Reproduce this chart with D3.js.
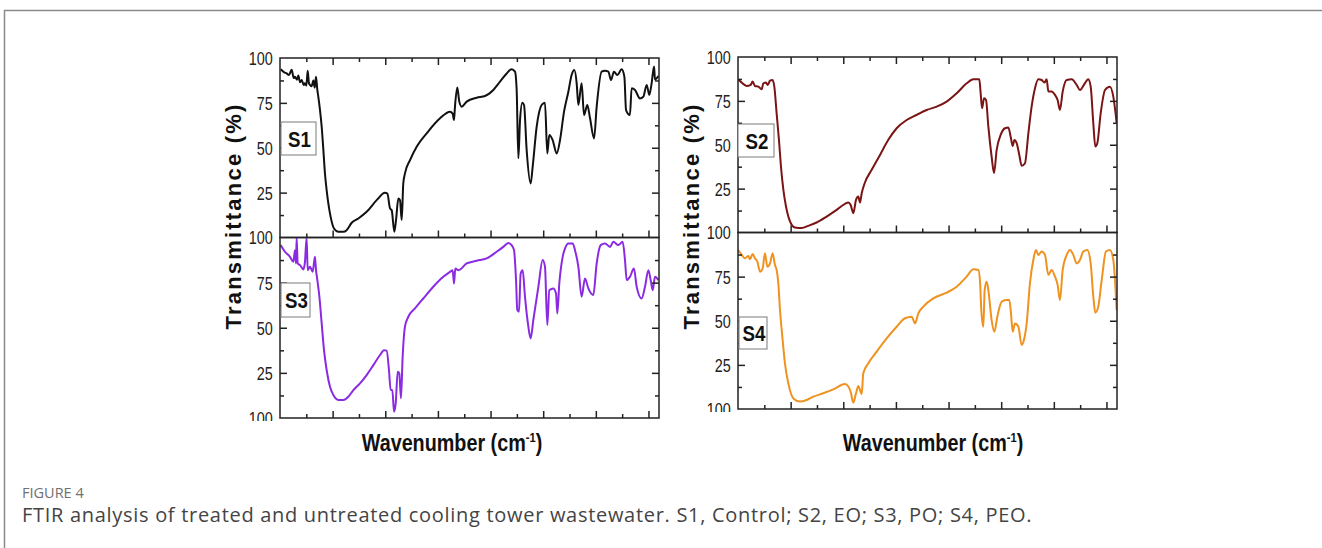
<!DOCTYPE html>
<html>
<head>
<meta charset="utf-8">
<script src="https://cdnjs.cloudflare.com/ajax/libs/d3/7.8.5/d3.min.js"></script>
<style>
  body { margin: 0; background: #fff; }
  svg text { font-family: "Liberation Sans", Arial, sans-serif; }
</style>
</head>
<body>
<div id="container"></div>
<script>
const width = 1322, height = 548;

// wavenumber (cm-1) vs transmittance (%)
const s1 = [[3994,93.7],[3960,92],[3937,91.4],[3915,90.5],[3889,93.5],[3870,88.8],[3858,89.6],[3840,87.9],[3826,90.2],[3810,86.5],[3794,87.7],[3775,84.9],
  [3763,85.9],[3750,84.6],[3737,92.9],[3725,86],[3715,85],[3700,84.2],[3683,87.5],[3670,83.5],[3658,89.6],[3645,82],[3636,78.4],
  [3620,71],[3604,61.7],[3588,48.7],[3573,35.7],[3557,26.4],[3541,19],[3519,11.5],[3487,5],[3446,3.2],[3398,3.2],[3367,4.1],[3319,8.2],[3256,10.6],[3177,14.3],
  [3082,20.8],[3003,24.9],[2980,24.5],[2955,16.2],[2939,15.2],[2914,3.2],[2898,9.7],[2876,21.7],[2860,20.8],[2844,9.7],[2829,30.1],[2813,35.7],[2765,43.1],
  [2702,50.6],[2607,58],[2480,66.4],[2385,70.1],[2360,69],[2347,65.4],[2338,72.9],[2316,83.5],[2297,75.7],[2274,72.9],[2227,75.7],[2132,77.9],[2053,78.8],
  [1974,82.2],[1910,86.8],[1847,91.4],[1800,93.7],[1768,92.4],[1752,82.2],[1736,44.1],[1720,65.4],[1698,75.1],[1682,73.8],[1657,48.7],[1619,30.1],[1600,39.4],
  [1562,61.7],[1515,73.8],[1483,75.1],[1461,46.8],[1442,57.1],[1410,54.3],[1372,46.8],[1340,54.3],[1302,70.1],[1261,81.2],[1230,90.5],[1204,93.3],[1182,85.9],
  [1166,73.8],[1135,85.9],[1112,68.2],[1081,73.8],[1055,66.4],[1017,55.2],[992,72.9],[945,92.4],[913,92.9],[881,92.4],[856,87.7],[828,92.4],[796,90.5],
  [755,93.7],[729,89.6],[713,71],[676,68.2],[660,83.1],[628,82.2],[581,77.5],[549,78.4],[517,85],[492,79.4],[470,85.9],[447,95.2],[438,88],[406,90]];

const s2 = [[3997,87.3],[3965,85.4],[3918,83.5],[3880,84.1],[3861,86],[3839,83.5],[3807,83.1],[3775,81.6],[3759,85],[3734,85.4],[3718,84.1],[3696,86.5],
  [3671,86.9],[3655,83.1],[3633,67.9],[3611,52.8],[3592,37.6],[3569,24.3],[3544,14.8],[3506,6.3],[3459,2.8],[3395,2.5],[3332,3.8],[3253,5.7],[3158,9.1],
  [3063,12.9],[2984,16.3],[2952,17.1],[2930,15.7],[2905,11],[2879,18.6],[2857,20.5],[2841,17.1],[2825,22.4],[2794,28.5],[2730,35.7],[2651,44.2],[2572,52.8],
  [2493,59.4],[2398,64.1],[2303,67],[2208,69.8],[2113,71.7],[2018,74.6],[1923,79.3],[1828,85],[1765,87.3],[1708,87.3],[1695,79.3],[1682,70.8],[1663,76.5],
  [1644,75.5],[1622,60.3],[1591,43.3],[1568,33.8],[1543,47.1],[1505,55.6],[1464,59.4],[1432,59.8],[1410,54.6],[1391,49.3],[1375,52.7],[1353,50.9],[1328,44.2],
  [1306,38],[1274,39.5],[1242,56.5],[1211,71.7],[1179,82.2],[1147,87.3],[1116,86.9],[1090,85.4],[1068,87.3],[1052,80.3],[1021,80.3],[989,78.4],[964,75.5],
  [942,69.8],[916,80.3],[878,86.9],[831,87.3],[783,84.1],[752,81.2],[714,84.1],[673,87.3],[650,83.1],[625,62.2],[606,49],[587,50.9],[555,67.9],[514,81.2],
  [467,83.1],[435,77.4],[403,62.2]];

const s3 = [[3994,95.8],[3953,92.1],[3905,89.3],[3873,86.5],[3858,93],[3848,85.6],[3842,100],[3832,85.6],[3810,84.7],[3778,82.3],[3763,86.5],[3747,100],
  [3737,81.9],[3715,83.8],[3690,81],[3668,89.3],[3658,81.9],[3645,76.4],[3626,67.2],[3604,52.4],[3582,37.6],[3557,26.6],[3525,17.3],[3493,12.7],[3446,10],
  [3398,10],[3351,11.8],[3303,15.5],[3240,19.2],[3177,23.8],[3113,29.3],[3050,34.9],[3012,37.6],[2987,37.3],[2965,26.6],[2949,15.5],[2933,15.5],[2917,3.5],
  [2901,8.1],[2882,25.6],[2867,24.7],[2851,10.9],[2835,33.9],[2813,50.6],[2781,56.1],[2718,60.7],[2639,66.2],[2544,72.7],[2449,78.2],[2385,81],[2360,81.9],
  [2347,74.5],[2335,82.8],[2306,81.9],[2227,85.6],[2132,87.1],[2037,88.4],[1942,92.1],[1879,94.8],[1831,97],[1800,95.8],[1777,93],[1758,76.4],[1746,59.8],
  [1730,58.9],[1714,80.1],[1695,81.9],[1673,67.2],[1641,50.6],[1619,44.1],[1594,54.2],[1546,72.7],[1505,87.5],[1483,83.8],[1461,51.5],[1442,70.8],[1404,71.8],
  [1378,69],[1366,57.9],[1347,74.5],[1315,89.3],[1293,93.9],[1261,96.7],[1220,96.7],[1198,93],[1166,83.8],[1135,67.2],[1103,77.3],[1071,71.8],[1024,68.1],
  [992,85.6],[954,95.8],[913,96.7],[865,94.8],[834,97.6],[786,95.8],[745,97.6],[723,87.5],[707,76.4],[676,78.2],[638,82.8],[612,72.7],[565,66.2],[533,72.7],
  [501,81.9],[479,76.4],[460,70.8],[438,78.2],[406,76.4]];

const s4 = [[3997,90.1],[3965,87.3],[3934,85.4],[3902,86.7],[3886,84.8],[3861,87.8],[3839,85.4],[3816,83.5],[3791,77.8],[3766,79.7],[3744,88.2],[3721,80.6],
  [3696,82.5],[3671,88.2],[3649,81.6],[3633,78.8],[3617,71.2],[3601,56.1],[3579,41],[3554,25.9],[3522,14.5],[3474,6],[3411,4.2],[3348,5.1],[3284,7],[3190,8.9],
  [3095,11.1],[2984,14.2],[2952,12.7],[2930,9.8],[2905,3.6],[2879,8.9],[2857,13],[2825,8.5],[2810,20.2],[2762,25.9],[2683,32.5],[2588,40],[2493,46.6],[2414,51.4],
  [2350,52.3],[2319,48.5],[2287,54.2],[2240,58],[2145,62.7],[2018,65.9],[1923,69.3],[1828,75],[1765,79.2],[1717,78.8],[1702,73.1],[1689,56.1],[1670,46.6],
  [1657,67.4],[1638,72.1],[1622,67.4],[1591,50.4],[1565,43.8],[1537,52.3],[1496,60.8],[1455,61.8],[1423,61.8],[1407,54.2],[1391,43.8],[1369,48.5],[1337,46.6],
  [1306,36.3],[1284,39.1],[1258,48.5],[1227,71.2],[1195,84.4],[1170,90.1],[1147,87.3],[1116,89.2],[1084,87.3],[1052,75.9],[1021,78.8],[989,75],[964,70.3],
  [942,61.8],[916,78.8],[878,87.3],[847,90.1],[815,87.3],[783,82.5],[752,84.4],[720,89.2],[682,90.1],[650,82.5],[625,63.6],[606,54.6],[578,58],[545,73.1],
  [505,89.2],[467,90.1],[435,84.4],[403,56.1]];

const sampleNames = ["S1", "S2", "S3", "S4"];
const lineColors = ["#111111", "#7b1414", "#8a2be2", "#ef9220"];
const xMajorTicks = [3500, 3000, 2500, 2000, 1500, 1000, 500];
const xMinorTicks = [3750, 3250, 2750, 2250, 1750, 1250, 750];
const yMajorTicks = [25, 50, 75];
const yMinorTicks = [12.5, 37.5, 62.5, 87.5];
const yLabelTicks = [100, 75, 50, 25];
const xTitle = "Wavenumber (cm";
const yTitle = "Transmittance (%)";
const captionLabel = "FIGURE 4";
const captionText = "FTIR analysis of treated and untreated cooling tower wastewater. S1, Control; S2, EO; S3, PO; S4, PEO.";

const svg = d3.select("#container")
  .append("svg")
  .attr("width", width)
  .attr("height", height);

// frame around the figure
svg.append("path")
  .attr("d", `M4.5,${height} V10.5 H${width}`)
  .attr("fill", "none")
  .attr("stroke", "#8a8a8a")
  .attr("stroke-width", 1.5);

const columns = [
  { x0: 280, x1: 659, top: 58, mid: 237.5, bottom: 418, titleX: 233, xTitleX: 452, series: [s1, s3], idx: [0, 2],
    boxes: [{ x: 281, y: 122, w: 35, h: 33 }, { x: 281, y: 283, w: 29, h: 34 }] },
  { x0: 738, x1: 1117, top: 57, mid: 232.5, bottom: 409, titleX: 691, xTitleX: 933, series: [s2, s4], idx: [1, 3],
    boxes: [{ x: 738, y: 124, w: 36, h: 33 }, { x: 739, y: 317, w: 28, h: 32 }] }
];

columns.forEach((col, ci) => {
  const x = d3.scaleLinear().domain([4000, 400]).range([col.x0, col.x1]);

  [[col.top, col.mid], [col.mid, col.bottom]].forEach(([t, b], pi) => {
    const y = d3.scaleLinear().domain([0, 100]).range([b, t]);
    const g = svg.append("g");
    const clipId = `clip-${ci}-${pi}`;

    svg.append("clipPath").attr("id", clipId)
      .append("rect")
      .attr("x", col.x0).attr("y", t)
      .attr("width", col.x1 - col.x0).attr("height", b - t);

    const line = d3.line()
      .x(d => x(d[0]))
      .y(d => y(d[1]))
      .curve(d3.curveMonotoneX);

    g.append("path")
      .datum(col.series[pi])
      .attr("clip-path", `url(#${clipId})`)
      .attr("fill", "none")
      .attr("stroke", lineColors[col.idx[pi]])
      .attr("stroke-width", 2)
      .attr("stroke-linejoin", "round")
      .attr("d", line);

    // tick marks, all pointing inward
    const tickAxis = (axis, values, size) => axis.tickValues(values).tickSize(-size).tickFormat("");
    const bottomAx = g.append("g").attr("transform", `translate(0,${b})`);
    bottomAx.append("g").call(tickAxis(d3.axisBottom(x), xMajorTicks, 7));
    bottomAx.append("g").call(tickAxis(d3.axisBottom(x), xMinorTicks, 4));
    if (pi === 0) {
      const topAx = g.append("g").attr("transform", `translate(0,${t})`);
      topAx.append("g").call(tickAxis(d3.axisTop(x), xMajorTicks, 7));
      topAx.append("g").call(tickAxis(d3.axisTop(x), xMinorTicks, 4));
    }
    const leftAx = g.append("g").attr("transform", `translate(${col.x0},0)`);
    leftAx.append("g").call(tickAxis(d3.axisLeft(y), yMajorTicks, 7));
    leftAx.append("g").call(tickAxis(d3.axisLeft(y), yMinorTicks, 4));
    const rightAx = g.append("g").attr("transform", `translate(${col.x1},0)`);
    rightAx.append("g").call(tickAxis(d3.axisRight(y), yMajorTicks, 7));
    rightAx.append("g").call(tickAxis(d3.axisRight(y), yMinorTicks, 4));
    g.selectAll(".domain").remove();
    g.selectAll(".tick line").attr("stroke", "#222").attr("stroke-width", 1.5);

    // tick labels (bottom label of the lower panel reads "100" in the original)
    const labelVals = pi === 1 ? yLabelTicks.concat([0]) : yLabelTicks;
    const lab = g.append("g")
      .attr("transform", `translate(${col.x0},0)`)
      .call(d3.axisLeft(y).tickValues(labelVals).tickSize(0).tickPadding(9)
        .tickFormat(d => d === 0 ? "100" : d));
    lab.select(".domain").remove();
    lab.selectAll("text")
      .attr("transform", "scale(0.8,1)")
      .attr("dy", "0.36em")
      .style("font-size", "18px")
      .attr("fill", "#222");
    if (pi === 1) {
      svg.append("clipPath").attr("id", `lab-${ci}`)
        .append("rect").attr("x", -1000).attr("y", 0).attr("width", 3000).attr("height", b + 3);
      lab.attr("clip-path", `url(#lab-${ci})`);
    }

    // frame
    g.append("rect")
      .attr("x", col.x0).attr("y", t)
      .attr("width", col.x1 - col.x0).attr("height", b - t)
      .attr("fill", "none")
      .attr("stroke", "#222")
      .attr("stroke-width", 1.5);

    // sample label box
    const bx = col.boxes[pi];
    g.append("rect")
      .attr("x", bx.x).attr("y", bx.y).attr("width", bx.w).attr("height", bx.h)
      .attr("fill", "#fff").attr("stroke", "#7a7a7a").attr("stroke-width", 1);
    g.append("text")
      .attr("transform", `translate(${bx.x + bx.w / 2 + 1},${bx.y + bx.h / 2 + 8}) scale(0.85,1)`)
      .attr("text-anchor", "middle")
      .style("font-size", "22px").style("font-weight", "bold")
      .attr("fill", "#111")
      .text(sampleNames[col.idx[pi]]);
  });

  // axis titles
  const xt = svg.append("text")
    .attr("transform", `translate(${col.xTitleX},451) scale(0.86,1)`)
    .attr("text-anchor", "middle")
    .style("font-size", "23px").style("font-weight", "bold")
    .attr("fill", "#111");
  xt.append("tspan").text(xTitle);
  xt.append("tspan").attr("dy", -9).style("font-size", "13px").text("-1");
  xt.append("tspan").attr("dy", 9).text(")");

  svg.append("text")
    .attr("transform", `translate(${col.titleX + 8},216) rotate(-90)`)
    .attr("text-anchor", "middle")
    .style("font-size", "22px").style("font-weight", "bold")
    .style("letter-spacing", "2.2px")
    .attr("fill", "#111")
    .text(yTitle);
});

// caption
svg.append("text")
  .attr("x", 22).attr("y", 498)
  .style("font-family", "'Open Sans', sans-serif")
  .style("font-size", "14.5px")
  .attr("fill", "#707070")
  .text(captionLabel);

svg.append("text")
  .attr("x", 22).attr("y", 522)
  .style("font-family", "'Open Sans', sans-serif")
  .style("font-size", "20px")
  .style("letter-spacing", "0.7px")
  .attr("fill", "#444")
  .text(captionText);
</script>
</body>
</html>
